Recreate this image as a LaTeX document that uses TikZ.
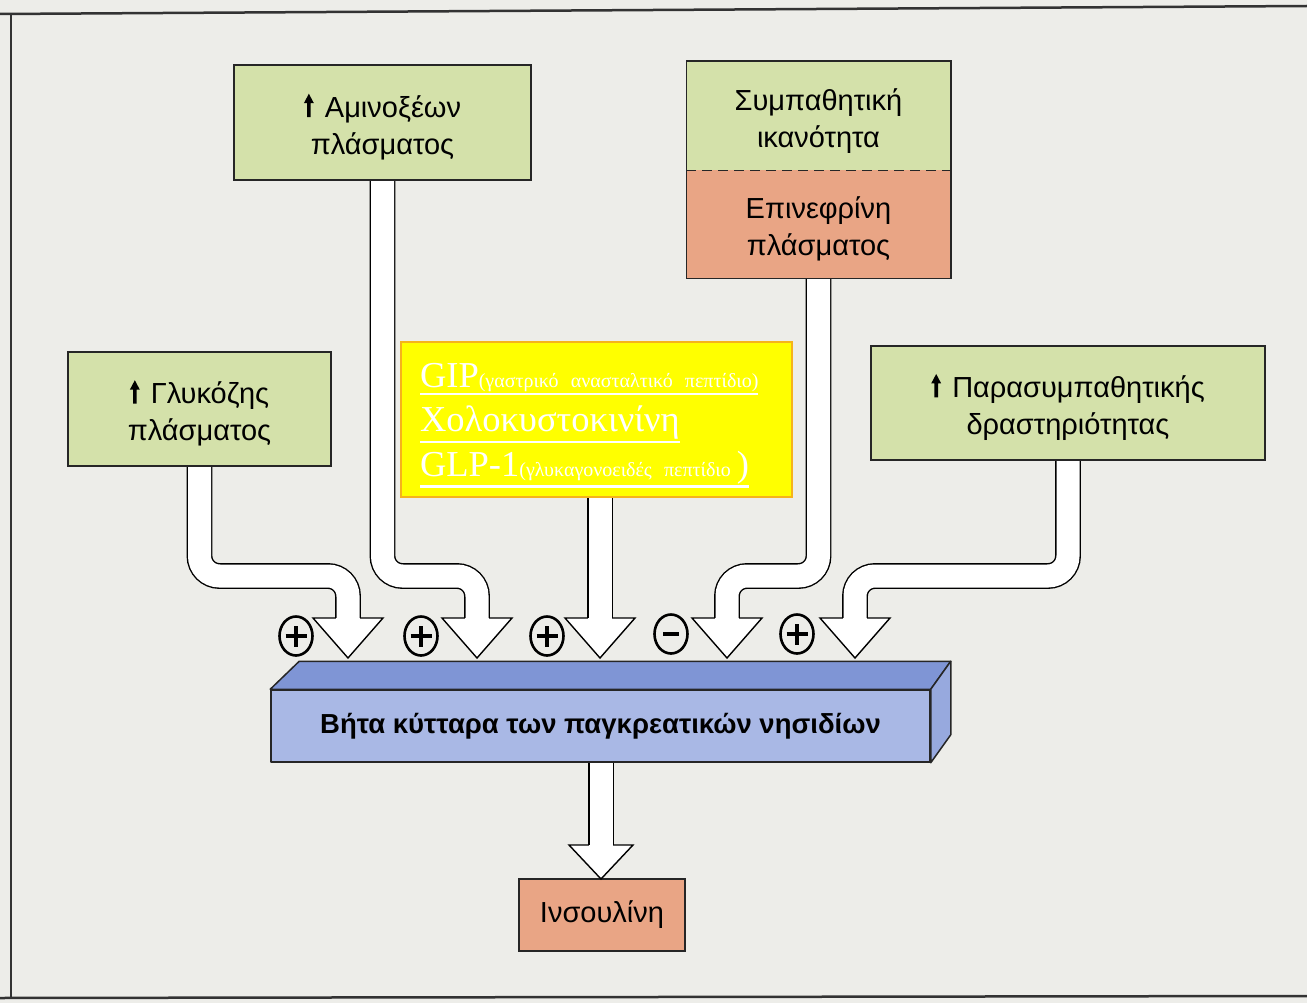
\documentclass[tikz,border=0pt]{standalone}
\usepackage{fontspec}
\setmainfont{Liberation Sans}
\newfontfamily\peptidefont{Liberation Serif}
\usetikzlibrary{shapes.geometric,backgrounds}

\definecolor{paper}{HTML}{EDEDE9}
\definecolor{boxgreen}{HTML}{D4E1AA}
\definecolor{boxorange}{HTML}{E9A585}
\definecolor{barfront}{HTML}{A9B8E5}
\definecolor{bartop}{HTML}{7F95D5}
\definecolor{barside}{HTML}{97A9DE}
\definecolor{peptide}{HTML}{FFFF00}
\definecolor{peptideedge}{HTML}{F6B31B}

% thick underline placed just below the deepest descender of its argument
\newcommand\ulline[1]{\setbox0=\hbox{#1}\leavevmode\rlap{\vrule width \wd0 height \dimexpr-\dp0-1.5pt\relax depth \dimexpr\dp0+4pt\relax}\box0}
\newcommand\pepsmall{\fontsize{20}{20}\selectfont}
% extra headroom on the first line of a two-line label
\newcommand\tallstrut{\rule{0pt}{32pt}}

\newsavebox\risebox

\tikzset{
  pics/headtip/.style n args={2}{code={
    \fill[white] (-12.2,-#2) -- (-#1,-#2) -- (0,0) -- (#1,-#2) -- (12.2,-#2) -- cycle;
    \draw[line width=1.4pt, line join=miter] (-12.2,-#2) -- (-#1,-#2) -- (0,0) -- (#1,-#2) -- (12.2,-#2);
  }}
}

\begin{document}
% bold upward arrow used in front of the "increase" labels
\sbox\risebox{\begin{pgfpicture}
  \pgfpathrectangle{\pgfpoint{-1.8pt}{0pt}}{\pgfpoint{3.6pt}{15pt}}
  \pgfpathmoveto{\pgfpoint{-5pt}{14pt}}
  \pgfpathlineto{\pgfpoint{5pt}{14pt}}
  \pgfpathlineto{\pgfpoint{0pt}{23.5pt}}
  \pgfpathclose
  \pgfusepath{fill}
\end{pgfpicture}\hspace{3pt}}
\begin{tikzpicture}[x=1pt,y=-1pt,
  infobox/.style={draw=black!85, line width=1.5pt, fill=boxgreen, inner sep=0pt,
    align=center, font=\fontsize{29}{37}\selectfont},
  flowshaft/.style={draw=black, line width=1.4pt, double=white, double distance=23pt,
    rounded corners=20pt},
  barline/.style={draw=black!85, line width=1.5pt, line join=round},
  signnode/.style={ellipse, draw, line width=2.6pt, minimum width=33pt, minimum height=39pt, inner sep=0pt},
  plussign/.style={signnode, path picture={
    \draw[line width=3.6pt] ([xshift=-10.5pt]path picture bounding box.center) -- ([xshift=10.5pt]path picture bounding box.center)
      ([yshift=-10.5pt]path picture bounding box.center) -- ([yshift=10.5pt]path picture bounding box.center);}},
  minussign/.style={signnode, path picture={
    \draw[line width=3.6pt] ([xshift=-8pt]path picture bounding box.center) -- ([xshift=8pt]path picture bounding box.center);}},
]
\useasboundingbox (0,0) rectangle (1307,1003);
\begin{scope}[on background layer]
  \fill[paper] (0,0) rectangle (1307,1003);
\end{scope}

% page frame
\draw[line width=2.5pt, black!80] (0,14) -- (1307,6);
\draw[line width=1.4pt, black!80] (11,14) -- (11,997);
\draw[line width=2.5pt, black!80] (0,998) -- (1307,996);

% stimulus boxes
\node[infobox, minimum width=297pt, minimum height=115pt] (amino) at (382.5,122.5)
  {\tallstrut\usebox\risebox\ Αμινοξέων\\πλάσματος};
\node[infobox, draw=none, minimum width=263pt, minimum height=108pt] (symp) at (818.5,116)
  {\tallstrut Συμπαθητική\\ικανότητα};
\node[infobox, draw=none, fill=boxorange, minimum width=263pt, minimum height=108pt] (adr) at (818.5,224)
  {\tallstrut Επινεφρίνη\\πλάσματος};
\draw[line width=1.5pt, black!85] (symp.north west) rectangle (adr.south east);
\draw[line width=1.5pt, black!85, dash pattern=on 10pt off 6pt] (symp.south west) -- (symp.south east);
\node[infobox, minimum width=263pt, minimum height=114pt] (gluc) at (199.5,409)
  {\tallstrut\usebox\risebox\ Γλυκόζης\\πλάσματος};
\node[infobox, minimum width=394pt, minimum height=114pt] (para) at (1068,403)
  {\tallstrut\usebox\risebox\ Παρασυμπαθητικής\\δραστηριότητας};
\node[draw=peptideedge, line width=2pt, fill=peptide, minimum width=391pt, minimum height=155pt,
  text width=353pt, align=left, inner sep=0pt, text=white,
  font=\peptidefont\fontsize{36.5}{44.5}\selectfont] (pep) at (596.5,419.5)
  {\rule{0pt}{36pt}\ulline{GIP{\pepsmall(γαστρικό ανασταλτικό πεπτίδιο)}}\\
   \ulline{Χολοκυστοκινίνη}\\
   \ulline{GLP-1{\pepsmall(γλυκαγονοειδές πεπτίδιο}\,)}};

% beta-cell bar drawn as a block
\node[barline, fill=barfront, minimum width=659pt, minimum height=72pt, inner sep=0pt,
  font=\fontsize{27.5}{30}\selectfont\bfseries] (beta) at (600.5,726)
  {Βήτα κύτταρα των παγκρεατικών νησιδίων};
\draw[barline, fill=bartop] (beta.north west) -- ++(29,-28) -- ([shift={(20,-28)}]beta.north east)
  -- (beta.north east) -- cycle;
\draw[barline, fill=barside] (beta.north east) -- ++(20,-28) -- ([shift={(20,-28)}]beta.south east)
  -- (beta.south east) -- cycle;

\node[infobox, fill=boxorange, minimum width=166pt, minimum height=72pt] (ins) at (602,915) {Ινσουλίνη};

% arrow tips and the level of the horizontal runs
\coordinate (lvl) at (0,576);
\coordinate (tip1) at (348,658);
\coordinate (tip2) at (477,658);
\coordinate (tip3) at (600,658);
\coordinate (tip4) at (727,658);
\coordinate (tip5) at (855,658);
\coordinate (tip6) at (601,879);

\begin{scope}[on background layer]
  \draw[flowshaft] (gluc.south) -- (gluc.south |- lvl) -- (tip1 |- lvl) -- ([yshift=40pt]tip1);
  \draw[flowshaft] (amino.south) -- (amino.south |- lvl) -- (tip2 |- lvl) -- ([yshift=40pt]tip2);
  \draw[flowshaft] (pep.south -| tip3) -- ([yshift=40pt]tip3);
  \draw[flowshaft] (adr.south) -- (adr.south |- lvl) -- (tip4 |- lvl) -- ([yshift=40pt]tip4);
  \draw[flowshaft] (para.south) -- (para.south |- lvl) -- (tip5 |- lvl) -- ([yshift=40pt]tip5);
  \draw[flowshaft] (beta.south -| tip6) -- ([yshift=34pt]tip6);
\end{scope}

\pic at (tip1) {headtip={35}{40}};
\pic at (tip2) {headtip={35}{40}};
\pic at (tip3) {headtip={35}{40}};
\pic at (tip4) {headtip={35}{40}};
\pic at (tip5) {headtip={35}{40}};
\pic at (tip6) {headtip={32}{34}};

% effect signs
\node[plussign] (s1) at (296,636) {};
\node[plussign] (s2) at (421,636) {};
\node[plussign] (s3) at (547,636) {};
\node[minussign] (s4) at (671,634) {};
\node[plussign] (s5) at (797,634) {};
\end{tikzpicture}
\end{document}
